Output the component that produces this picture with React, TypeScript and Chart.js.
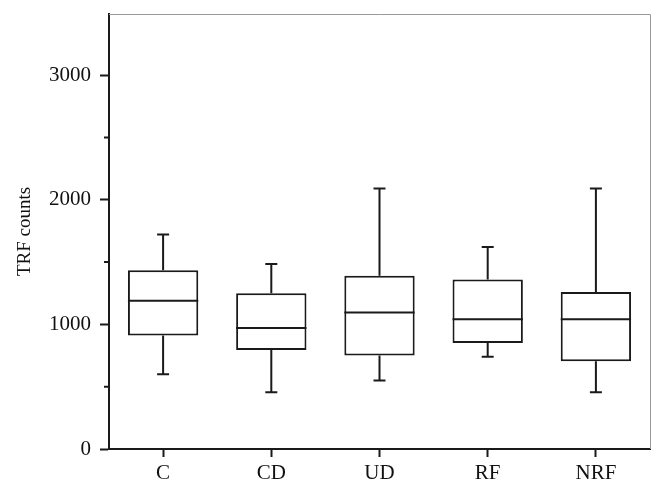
import React, { useEffect, useRef } from "react";
import { Chart, registerables } from "chart.js";

Chart.register(...registerables);

const categories = ["C", "CD", "UD", "RF", "NRF"];
const mins = [600, 455, 550, 740, 455];
const q1s = [910, 795, 750, 850, 705];
const medians = [1190, 970, 1095, 1040, 1040];
const q3s = [1435, 1250, 1390, 1360, 1260];
const maxs = [1720, 1485, 2090, 1620, 2090];
const yTicks = [0, 1000, 2000, 3000];
const yMinorTicks = [500, 1500, 2500];
const yMax = 3490;

const LINE = "#1a1a1a";

const boxPlugin = {
  id: "boxExtras",
  afterDatasetsDraw(chart: any) {
    const ctx = chart.ctx;
    const y = chart.scales.y;
    const meta = chart.getDatasetMeta(0);
    ctx.save();
    ctx.strokeStyle = LINE;
    ctx.lineWidth = 2;
    meta.data.forEach((bar: any, i: number) => {
      const x = bar.x;
      const half = bar.width / 2;
      const capHalf = 6;
      const yMed = y.getPixelForValue(medians[i]);
      const yMin = y.getPixelForValue(mins[i]);
      const yMaxP = y.getPixelForValue(maxs[i]);
      const yQ1 = y.getPixelForValue(q1s[i]);
      const yQ3 = y.getPixelForValue(q3s[i]);
      ctx.beginPath();
      ctx.moveTo(x - half, yMed);
      ctx.lineTo(x + half, yMed);
      ctx.moveTo(x, yQ3);
      ctx.lineTo(x, yMaxP);
      ctx.moveTo(x - capHalf, yMaxP);
      ctx.lineTo(x + capHalf, yMaxP);
      ctx.moveTo(x, yQ1);
      ctx.lineTo(x, yMin);
      ctx.moveTo(x - capHalf, yMin);
      ctx.lineTo(x + capHalf, yMin);
      ctx.stroke();
    });
    // minor ticks
    const left = chart.chartArea.left;
    ctx.beginPath();
    yMinorTicks.forEach((v) => {
      const py = y.getPixelForValue(v);
      ctx.moveTo(left - 5, py);
      ctx.lineTo(left, py);
    });
    ctx.stroke();
    // frame top/right
    const a = chart.chartArea;
    ctx.strokeStyle = "#9a9a9a";
    ctx.lineWidth = 1;
    ctx.beginPath();
    ctx.moveTo(a.left, a.top + 0.5);
    ctx.lineTo(a.right + 0.5, a.top + 0.5);
    ctx.lineTo(a.right + 0.5, a.bottom);
    ctx.stroke();
    ctx.restore();
  },
};

export default function App() {
  const ref = useRef<HTMLCanvasElement>(null);
  useEffect(() => {
    document.body.style.margin = "0";
    const canvas = ref.current!;
    Chart.defaults.font.family = "'Liberation Serif', 'Times New Roman', serif";
    Chart.defaults.color = "#111";
    const chart = new Chart(canvas, {
      type: "bar",
      data: {
        labels: categories,
        datasets: [
          {
            data: categories.map((_, i) => [q1s[i], q3s[i]]) as any,
            backgroundColor: "#ffffff",
            borderColor: LINE,
            borderWidth: 2,
            borderSkipped: false,
            barPercentage: 0.65,
            categoryPercentage: 1,
          },
        ],
      },
      options: {
        animation: false,
        responsive: false,
        layout: { padding: { top: 14, right: 15, left: 0, bottom: 0 } },
        plugins: { legend: { display: false }, tooltip: { enabled: false } },
        scales: {
          x: {
            offset: true,
            grid: {
              offset: false,
              drawOnChartArea: false,
              tickLength: 8,
              tickWidth: 2,
              tickColor: LINE,
            },
            border: { color: LINE, width: 2 },
            ticks: { font: { size: 21 }, padding: 4, color: "#111" },
            afterFit: (s: any) => {
              s.height = 48;
              s.paddingLeft = 0;
              s.paddingRight = 0;
            },
          },
          y: {
            min: 0,
            max: yMax,
            afterBuildTicks: (s: any) => {
              s.ticks = yTicks.map((v) => ({ value: v }));
            },
            grid: {
              drawOnChartArea: false,
              tickLength: 9,
              tickWidth: 2,
              tickColor: LINE,
            },
            border: { color: LINE, width: 2 },
            ticks: {
              font: { size: 21 },
              padding: 9,
              color: "#111",
              callback: (v: any) => String(v),
            },
            title: {
              display: true,
              text: "TRF counts",
              font: { size: 19 },
              color: "#111",
              padding: { top: 14, bottom: 0 },
            },
            afterFit: (s: any) => {
              s.width = 109;
              s.paddingTop = 0;
              s.paddingBottom = 0;
            },
          },
        },
      },
      plugins: [boxPlugin],
    });
    return () => chart.destroy();
  }, []);
  return (
    <div style={{ width: 665, height: 497 }}>
      <canvas ref={ref} width={665} height={497} style={{ display: "block" }} />
    </div>
  );
}
